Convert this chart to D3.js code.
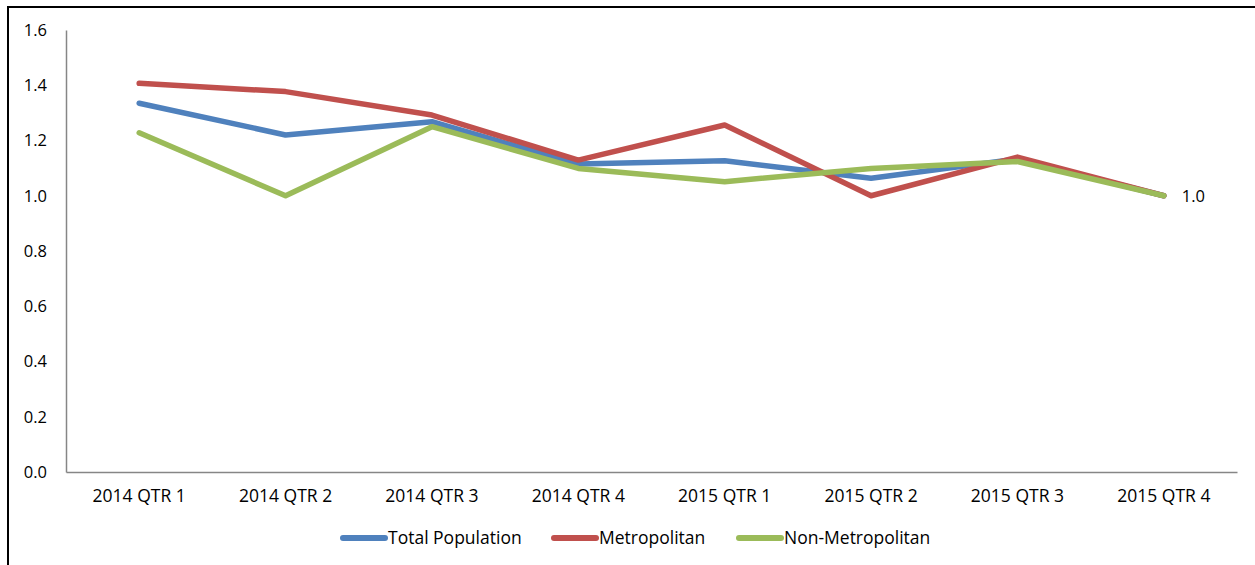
<!DOCTYPE html>
<html>
<head>
<meta charset="utf-8">
<script src="https://cdn.jsdelivr.net/npm/d3@7"></script>
<style>
  body { margin: 0; background: #fff; }
  svg text { font-family: "Open Sans", "Noto Sans", sans-serif; fill: #000; }
</style>
</head>
<body>
<div class="chart"></div>
<script>
var quarters = ["2014 QTR 1", "2014 QTR 2", "2014 QTR 3", "2014 QTR 4",
                "2015 QTR 1", "2015 QTR 2", "2015 QTR 3", "2015 QTR 4"];
var totalPop = [1.335, 1.22, 1.268, 1.115, 1.127, 1.063, 1.133, 1.0];
var metro = [1.407, 1.377, 1.292, 1.129, 1.256, 1.0, 1.14, 1.0];
var nonMetro = [1.228, 1.0, 1.25, 1.099, 1.051, 1.099, 1.124, 1.0];
var yTicks = [0, 0.2, 0.4, 0.6, 0.8, 1.0, 1.2, 1.4, 1.6];

var series = [
    { name: "Total Population", values: totalPop, color: "#4F81BD" },
    { name: "Metropolitan", values: metro, color: "#C0504D" },
    { name: "Non-Metropolitan", values: nonMetro, color: "#9BBB59" }
];

var W = 1255, H = 565;
var margin = { top: 30, right: 18, bottom: 93, left: 66 },
    width = W - margin.left - margin.right,
    height = H - margin.top - margin.bottom;

var root = d3.select('.chart')
    .append('svg')
    .attr("width", W)
    .attr("height", H);

// outer frame (cut off on right and bottom like the source)
root.append("rect")
    .attr("x", 8).attr("y", 7)
    .attr("width", W + 20).attr("height", H + 20)
    .attr("fill", "none")
    .attr("stroke", "#000")
    .attr("stroke-width", 2);

var svg = root.append("g")
    .attr("transform", "translate(" + margin.left + "," + margin.top + ")");

var x = d3.scaleBand()
    .domain(quarters)
    .range([0, width]);

var y = d3.scaleLinear()
    .domain([0, 1.6])
    .range([height, 0]);

var xAxis = svg.append("g")
    .attr("transform", "translate(0," + height + ")")
    .call(d3.axisBottom(x).tickSize(0).tickPadding(18));
xAxis.select(".domain").attr("stroke", "#868686").attr("stroke-width", 1.5);
xAxis.selectAll("text").style("font-size", "17.5px");

var yAxis = svg.append("g")
    .call(d3.axisLeft(y).tickValues(yTicks).tickSize(0).tickPadding(19)
        .tickFormat(d3.format(".1f")));
yAxis.select(".domain").attr("stroke", "#868686").attr("stroke-width", 1.5);
yAxis.selectAll("text").style("font-size", "16.5px");

var line = d3.line()
    .x(function (d, i) { return x(quarters[i]) + x.bandwidth() / 2; })
    .y(function (d) { return y(d); });

series.forEach(function (s) {
    svg.append("path")
        .datum(s.values)
        .attr("fill", "none")
        .attr("stroke", s.color)
        .attr("stroke-width", 5.5)
        .attr("stroke-linejoin", "round")
        .attr("stroke-linecap", "round")
        .attr("d", line);
});

// data label on final point
var last = quarters.length - 1;
svg.append("text")
    .attr("x", x(quarters[last]) + x.bandwidth() / 2 + 18)
    .attr("y", y(nonMetro[last]))
    .attr("dy", "0.35em")
    .style("font-size", "16.5px")
    .text(d3.format(".1f")(nonMetro[last]));

// legend
var legendX = [341, 552, 737];
var legend = root.append("g");
series.forEach(function (s, i) {
    var g = legend.append("g").attr("transform", "translate(" + legendX[i] + ",538)");
    g.append("line")
        .attr("x1", 2).attr("x2", 44)
        .attr("stroke", s.color)
        .attr("stroke-width", 6)
        .attr("stroke-linecap", "round");
    g.append("text")
        .attr("x", 47)
        .attr("dy", "0.35em")
        .style("font-size", "17.5px")
        .text(s.name);
});
</script>
</body>
</html>
